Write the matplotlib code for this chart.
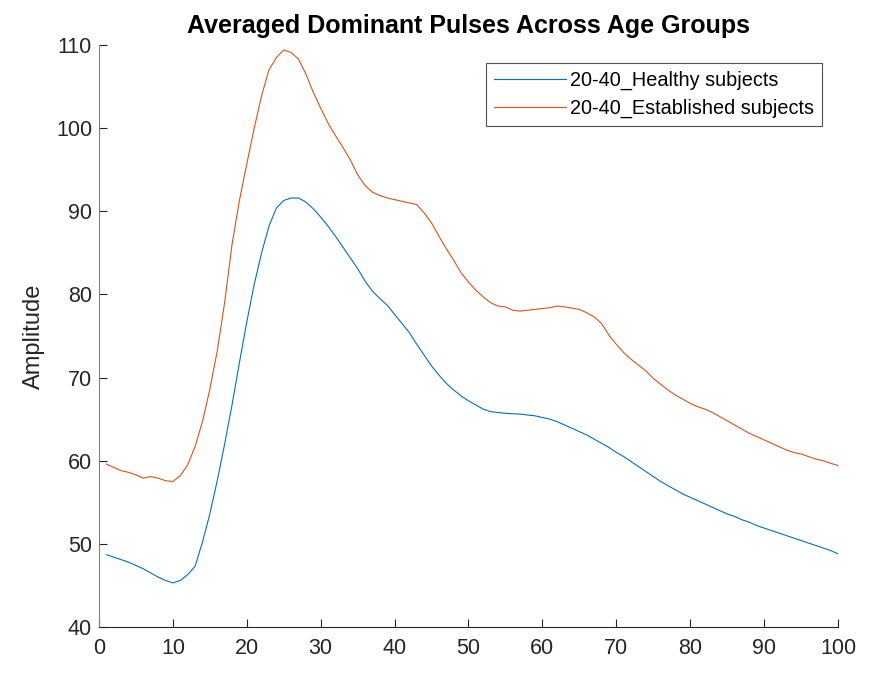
import numpy as np
import matplotlib
matplotlib.use("Agg")
import matplotlib.pyplot as plt

plt.rcParams['font.family'] = ['Liberation Sans', 'DejaVu Sans']

# sample index 1..100
x = np.arange(1, 101)

healthy = [48.7, 48.4, 48.1, 47.8, 47.4, 47.0, 46.5, 46.0, 45.6, 45.3,
           45.6, 46.3, 47.3, 50.2, 53.6, 57.6, 62.0, 66.7, 71.8, 76.7,
           81.2, 85.0, 88.2, 90.4, 91.3, 91.6, 91.6, 91.1, 90.3, 89.3,
           88.2, 87.0, 85.7, 84.4, 83.1, 81.6, 80.4, 79.5, 78.7, 77.6,
           76.5, 75.4, 74.0, 72.7, 71.4, 70.3, 69.3, 68.5, 67.8, 67.2,
           66.7, 66.2, 65.9, 65.8, 65.7, 65.65, 65.6, 65.5, 65.4, 65.2,
           65.0, 64.7, 64.3, 63.9, 63.5, 63.1, 62.6, 62.1, 61.6, 61.0,
           60.5, 59.9, 59.3, 58.7, 58.1, 57.5, 57.0, 56.5, 56.0, 55.6,
           55.2, 54.8, 54.4, 54.0, 53.6, 53.3, 52.9, 52.6, 52.2, 51.9,
           51.6, 51.3, 51.0, 50.7, 50.4, 50.1, 49.8, 49.5, 49.2, 48.8]

established = [59.6, 59.2, 58.8, 58.6, 58.3, 57.9, 58.1, 57.9, 57.6, 57.5,
               58.2, 59.5, 61.7, 64.7, 68.6, 73.2, 79.0, 86.0, 91.3, 95.7,
               100.0, 103.9, 107.0, 108.5, 109.4, 109.1, 108.3, 106.5, 104.3, 102.4,
               100.6, 99.1, 97.7, 96.2, 94.4, 93.1, 92.3, 91.9, 91.6, 91.4,
               91.2, 91.0, 90.8, 89.8, 88.6, 87.0, 85.5, 84.1, 82.6, 81.5,
               80.5, 79.7, 79.0, 78.6, 78.5, 78.1, 78.0, 78.1, 78.2, 78.3,
               78.4, 78.6, 78.5, 78.35, 78.2, 77.8, 77.3, 76.5, 75.1, 74.0,
               73.0, 72.2, 71.5, 70.8, 69.9, 69.2, 68.5, 67.9, 67.4, 66.9,
               66.5, 66.2, 65.8, 65.3, 64.8, 64.3, 63.8, 63.3, 62.9, 62.5,
               62.1, 61.7, 61.3, 61.0, 60.8, 60.5, 60.2, 60.0, 59.7, 59.4]

labels = ['20-40_Healthy subjects', '20-40_Established subjects']
x_ticks = np.arange(0, 101, 10)
y_ticks = np.arange(40, 111, 10)

fig = plt.figure(figsize=(8.81, 6.73), dpi=100)
ax = fig.add_axes([99/881, 46/673, (838-99)/881, (627-45)/673])

ax.plot(x, healthy, color='#0072BD', lw=0.8, label=labels[0])
ax.plot(x, established, color='#D95319', lw=0.8, label=labels[1])

ax.set_xlim(0, 100)
ax.set_ylim(40, 110)
ax.set_xticks(x_ticks)
ax.set_yticks(y_ticks)
ax.tick_params(direction='in', length=6, width=0.8, colors='#262626', labelsize=15.5)
ax.tick_params(axis='x', pad=8)
ax.tick_params(axis='y', pad=5)
for s in ['top', 'right']:
    ax.spines[s].set_visible(False)
ax.spines['left'].set_color('#808080')
ax.spines['bottom'].set_color('#262626')
for s in ['left', 'bottom']:
    ax.spines[s].set_linewidth(0.8)

ax.set_ylabel('Amplitude', fontsize=17, color='#262626', labelpad=8)
ax.set_title('Averaged Dominant Pulses Across Age Groups', fontsize=18,
             fontweight='bold', pad=9)

leg = ax.legend(loc='upper right', bbox_to_anchor=(0.978, 0.969), fontsize=14.3,
                frameon=True, fancybox=False, handlelength=3.6, borderpad=0.4,
                labelspacing=0.45, handletextpad=0.2, borderaxespad=0)
leg.get_frame().set_edgecolor('#262626')
leg.get_frame().set_linewidth(0.8)

fig.savefig('out.png', dpi=100)
